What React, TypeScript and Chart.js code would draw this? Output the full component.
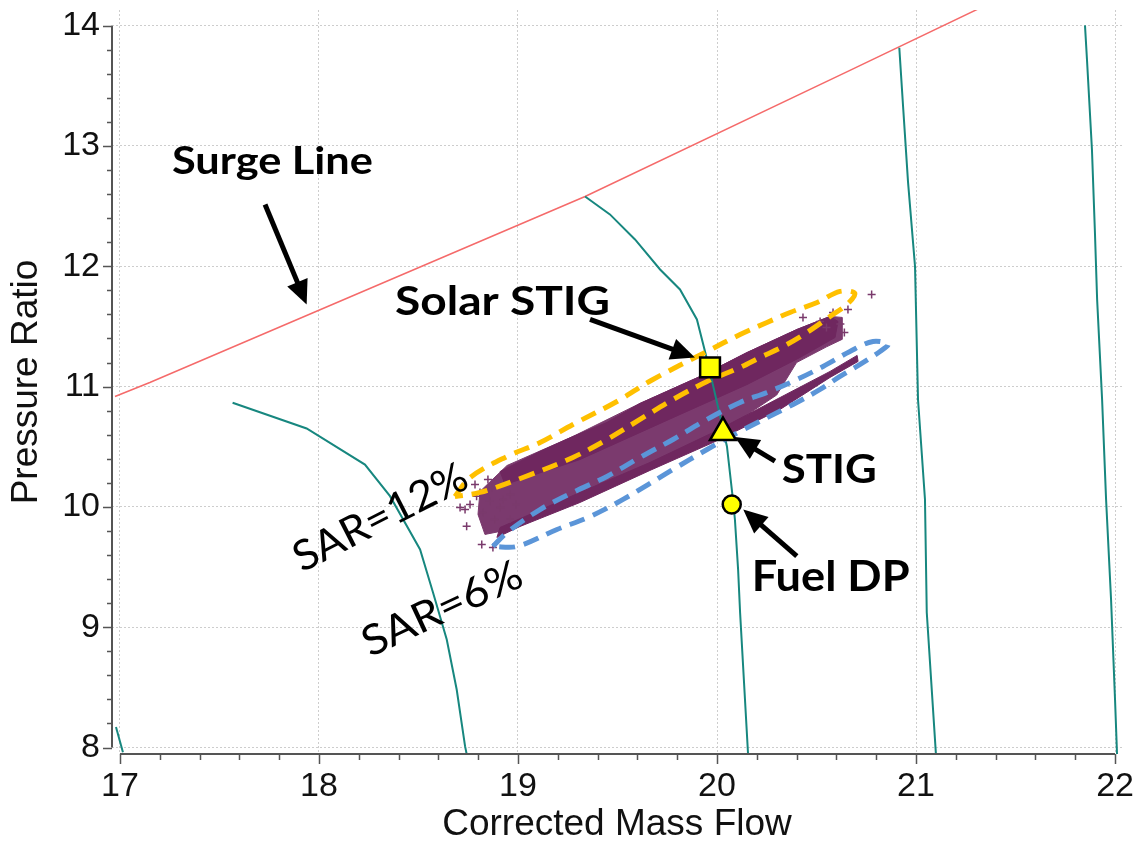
import React, { useEffect, useRef } from 'react';
import { Chart, registerables } from 'chart.js';

Chart.register(...registerables);

type P = { x: number; y: number };

// ---- axes ----
const xTickValues = [17, 18, 19, 20, 21, 22];
const yTickValues = [8, 9, 10, 11, 12, 13, 14];
const xRange = [16.96, 22.035];
const yRange = [7.946, 14.13];
const minorStep = 0.2;

// ---- surge line ----
const surgeLine: P[] = [
  { x: 16.975, y: 10.918 }, { x: 17.15, y: 11.034 }, { x: 19.337, y: 12.58 },
  { x: 20.668, y: 13.628 }, { x: 21.32, y: 14.145 },
];

// ---- speed lines ----
const speedLineA: P[] = [{ x: 16.98, y: 8.17 }, { x: 17.015, y: 7.96 }];
const speedLineB: P[] = [
  { x: 17.566, y: 10.865 }, { x: 17.938, y: 10.652 }, { x: 18.231, y: 10.352 },
  { x: 18.357, y: 10.089 }, { x: 18.508, y: 9.646 }, { x: 18.573, y: 9.288 },
  { x: 18.642, y: 8.898 }, { x: 18.692, y: 8.482 }, { x: 18.734, y: 8.011 }, { x: 18.742, y: 7.946 },
];
const speedLineC: P[] = [
  { x: 19.337, y: 12.58 }, { x: 19.462, y: 12.431 }, { x: 19.588, y: 12.223 },
  { x: 19.714, y: 11.973 }, { x: 19.814, y: 11.807 }, { x: 19.899, y: 11.558 },
  { x: 19.95, y: 11.225 }, { x: 20.0, y: 10.868 }, { x: 20.05, y: 10.502 },
  { x: 20.08, y: 10.062 }, { x: 20.09, y: 9.895 }, { x: 20.106, y: 9.48 },
  { x: 20.116, y: 9.122 }, { x: 20.156, y: 7.946 },
];
const speedLineD: P[] = [
  { x: 20.916, y: 13.816 }, { x: 20.936, y: 13.303 }, { x: 20.96, y: 12.697 },
  { x: 20.995, y: 11.998 }, { x: 21.01, y: 10.893 }, { x: 21.045, y: 10.062 },
  { x: 21.054, y: 9.122 }, { x: 21.1, y: 7.946 },
];
const speedLineE: P[] = [
  { x: 21.849, y: 14.002 }, { x: 21.859, y: 13.719 }, { x: 21.884, y: 12.971 },
  { x: 21.899, y: 12.281 }, { x: 21.91, y: 11.724 }, { x: 21.935, y: 10.893 },
  { x: 21.955, y: 10.062 }, { x: 21.98, y: 9.23 }, { x: 22.0, y: 8.399 }, { x: 22.01, y: 7.946 },
];

// ---- operating-point cloud (outlines of the dense scatter regions) ----
const cloudEnvelope: P[] = [
  { x: 18.809, y: 10.128 }, { x: 18.945, y: 10.344 }, { x: 19.276, y: 10.585 },
  { x: 19.613, y: 10.86 }, { x: 19.915, y: 11.084 }, { x: 20.151, y: 11.283 },
  { x: 20.402, y: 11.475 }, { x: 20.568, y: 11.583 }, { x: 20.628, y: 11.575 },
  { x: 20.628, y: 11.392 }, { x: 20.55, y: 11.33 }, { x: 20.4, y: 11.2 },
  { x: 20.3, y: 10.93 }, { x: 19.98, y: 10.577 }, { x: 19.663, y: 10.328 },
  { x: 19.312, y: 10.086 }, { x: 19.01, y: 9.879 }, { x: 18.91, y: 9.796 },
  { x: 18.834, y: 9.771 }, { x: 18.799, y: 9.937 }, { x: 18.809, y: 10.128 },
];
const cloudCore: P[] = [
  { x: 18.91, y: 10.294 }, { x: 19.111, y: 10.461 }, { x: 19.276, y: 10.585 },
  { x: 19.447, y: 10.702 }, { x: 19.613, y: 10.86 }, { x: 19.915, y: 11.084 },
  { x: 20.151, y: 11.283 }, { x: 20.402, y: 11.475 }, { x: 20.568, y: 11.583 },
  { x: 20.608, y: 11.541 }, { x: 20.593, y: 11.408 }, { x: 20.417, y: 11.242 },
  { x: 20.151, y: 11.017 }, { x: 19.814, y: 10.768 }, { x: 19.312, y: 10.394 },
  { x: 18.935, y: 10.186 }, { x: 18.91, y: 10.294 },
];
const cloudSliver: P[] = [
  { x: 18.91, y: 9.829 }, { x: 19.312, y: 10.12 }, { x: 19.663, y: 10.369 },
  { x: 19.98, y: 10.618 }, { x: 20.317, y: 10.909 }, { x: 20.568, y: 11.126 },
  { x: 20.704, y: 11.259 }, { x: 20.709, y: 11.209 }, { x: 20.568, y: 11.076 },
  { x: 20.317, y: 10.81 }, { x: 19.98, y: 10.535 }, { x: 19.663, y: 10.303 },
  { x: 19.312, y: 10.037 }, { x: 19.01, y: 9.837 }, { x: 18.894, y: 9.746 },
  { x: 18.91, y: 9.829 },
];
const cloudOutliers: P[] = [
  { x: 18.792, y: 10.089 }, { x: 18.859, y: 10.047 }, { x: 18.709, y: 9.995 },
  { x: 18.91, y: 9.995 }, { x: 18.742, y: 9.84 }, { x: 18.818, y: 9.687 },
  { x: 18.734, y: 9.978 }, { x: 18.824, y: 9.953 }, { x: 18.809, y: 10.12 },
  { x: 18.925, y: 10.062 }, { x: 18.874, y: 9.663 }, { x: 20.777, y: 11.766 },
  { x: 20.658, y: 11.641 }, { x: 20.518, y: 11.541 }, { x: 20.432, y: 11.574 },
  { x: 20.583, y: 11.616 }, { x: 20.62, y: 11.52 }, { x: 20.55, y: 11.49 },
  { x: 20.64, y: 11.45 }, { x: 18.96, y: 9.9 }, { x: 18.99, y: 10.02 },
  { x: 18.759, y: 10.02 }, { x: 18.884, y: 9.895 }, { x: 18.96, y: 10.103 },
  { x: 18.849, y: 10.228 }, { x: 18.784, y: 10.186 }, { x: 18.87, y: 10.16 },
];

// ---- SAR ellipses ----
const ellipseSar12: P[] = [
  { x: 18.683, y: 10.086 }, { x: 18.759, y: 10.244 }, { x: 18.945, y: 10.419 },
  { x: 19.111, y: 10.535 }, { x: 19.276, y: 10.685 }, { x: 19.497, y: 10.876 },
  { x: 19.678, y: 11.059 }, { x: 19.95, y: 11.292 }, { x: 20.116, y: 11.433 },
  { x: 20.251, y: 11.533 }, { x: 20.367, y: 11.616 }, { x: 20.503, y: 11.699 },
  { x: 20.618, y: 11.791 }, { x: 20.693, y: 11.774 }, { x: 20.653, y: 11.683 },
  { x: 20.568, y: 11.583 }, { x: 20.452, y: 11.45 }, { x: 20.332, y: 11.333 },
  { x: 20.216, y: 11.242 }, { x: 20.116, y: 11.159 }, { x: 19.95, y: 11.042 },
  { x: 19.779, y: 10.893 }, { x: 19.613, y: 10.727 }, { x: 19.447, y: 10.56 },
  { x: 19.276, y: 10.411 }, { x: 19.025, y: 10.244 }, { x: 18.809, y: 10.12 },
  { x: 18.683, y: 10.086 },
];
const ellipseSar6: P[] = [
  { x: 18.874, y: 9.671 }, { x: 18.945, y: 9.787 }, { x: 19.111, y: 9.978 },
  { x: 19.276, y: 10.12 }, { x: 19.447, y: 10.253 }, { x: 19.613, y: 10.411 },
  { x: 19.779, y: 10.56 }, { x: 19.95, y: 10.727 }, { x: 20.116, y: 10.868 },
  { x: 20.251, y: 10.951 }, { x: 20.402, y: 11.059 }, { x: 20.533, y: 11.167 },
  { x: 20.668, y: 11.292 }, { x: 20.784, y: 11.375 }, { x: 20.859, y: 11.35 },
  { x: 20.819, y: 11.292 }, { x: 20.719, y: 11.184 }, { x: 20.618, y: 11.084 },
  { x: 20.518, y: 10.976 }, { x: 20.382, y: 10.851 }, { x: 20.116, y: 10.627 },
  { x: 19.95, y: 10.477 }, { x: 19.779, y: 10.311 }, { x: 19.528, y: 10.062 },
  { x: 19.362, y: 9.92 }, { x: 19.196, y: 9.812 }, { x: 18.995, y: 9.671 },
  { x: 18.874, y: 9.671 },
];

// ---- design points ----
const solarStigPoint: P[] = [{ x: 19.965, y: 11.159 }];
const stigPoint: P[] = [{ x: 20.03, y: 10.618 }];
const fuelDpPoint: P[] = [{ x: 20.074, y: 10.02 }];

// ---- annotations (data units) ----
const arrowFrom: P[] = [
  { x: 17.729, y: 12.514 }, { x: 19.362, y: 11.558 }, { x: 20.291, y: 10.38 }, { x: 20.401, y: 9.59 },
];
const arrowTo: P[] = [
  { x: 17.938, y: 11.683 }, { x: 19.889, y: 11.242 }, { x: 20.09, y: 10.58 }, { x: 20.132, y: 9.978 },
];
const labelTexts = ['Surge Line', 'Solar STIG', 'STIG', 'Fuel DP', 'SAR=12%', 'SAR=6%'];
const labelAnchors: P[] = [
  { x: 17.261, y: 12.763 }, { x: 18.382, y: 11.599 }, { x: 20.325, y: 10.2 },
  { x: 20.174, y: 9.299 }, { x: 18.34, y: 9.81 }, { x: 18.648, y: 9.05 },
];

const labelStyle = [
  { weight: 'bold', size: 38, width: 201, angle: 0, align: 'left' },
  { weight: 'bold', size: 40, width: 215, angle: 0, align: 'left' },
  { weight: 'bold', size: 40, width: 95, angle: 0, align: 'left' },
  { weight: 'bold', size: 42, width: 158, angle: 0, align: 'left' },
  { weight: 'normal', size: 42, width: 190, angle: -27, align: 'center' },
  { weight: 'normal', size: 42, width: 172, angle: -25, align: 'center' },
];

const PURPLE = '#6f275f';
const PURPLE_SPECKLE = '#7b3a6e';
const TEAL = '#17877f';
const FONT = '"Liberation Sans", Arial, sans-serif';

const overlayPlugin = {
  id: 'overlay',
  afterDatasetsDraw(chart: any) {
    const ctx: CanvasRenderingContext2D = chart.ctx;
    const xs = chart.scales.x;
    const ys = chart.scales.y;
    // axes with major and minor ticks
    ctx.save();
    ctx.strokeStyle = '#555';
    ctx.lineWidth = 2;
    const axX = chart.chartArea.left;
    const axY = chart.chartArea.bottom;
    ctx.beginPath();
    ctx.moveTo(axX, ys.getPixelForValue(yTickValues[yTickValues.length - 1]));
    ctx.lineTo(axX, ys.getPixelForValue(yTickValues[0]));
    ctx.moveTo(xs.getPixelForValue(xTickValues[0]), axY);
    ctx.lineTo(xs.getPixelForValue(xTickValues[xTickValues.length - 1]), axY);
    ctx.stroke();
    ctx.lineWidth = 1.5;
    ctx.beginPath();
    const yN = Math.round((yTickValues[yTickValues.length - 1] - yTickValues[0]) / minorStep);
    for (let i = 0; i <= yN; i++) {
      const v = yTickValues[0] + i * minorStep;
      const py = Math.round(ys.getPixelForValue(v)) + 0.5;
      const len = i % 5 === 0 ? 9 : 5;
      ctx.moveTo(axX - len, py);
      ctx.lineTo(axX, py);
    }
    const xN = Math.round((xTickValues[xTickValues.length - 1] - xTickValues[0]) / minorStep);
    for (let i = 0; i <= xN; i++) {
      const v = xTickValues[0] + i * minorStep;
      const px = Math.round(xs.getPixelForValue(v)) + 0.5;
      const len = i % 5 === 0 ? 10 : 6;
      ctx.moveTo(px, axY);
      ctx.lineTo(px, axY + len);
    }
    ctx.stroke();
    ctx.restore();

    // arrows
    ctx.save();
    for (let i = 0; i < arrowFrom.length; i++) {
      const x1 = xs.getPixelForValue(arrowFrom[i].x);
      const y1 = ys.getPixelForValue(arrowFrom[i].y);
      const x2 = xs.getPixelForValue(arrowTo[i].x);
      const y2 = ys.getPixelForValue(arrowTo[i].y);
      const ang = Math.atan2(y2 - y1, x2 - x1);
      const headLen = 24;
      const headHalf = 11;
      const bx = x2 - headLen * Math.cos(ang);
      const by = y2 - headLen * Math.sin(ang);
      ctx.strokeStyle = '#000';
      ctx.lineWidth = 5;
      ctx.beginPath();
      ctx.moveTo(x1, y1);
      ctx.lineTo(bx + 2 * Math.cos(ang), by + 2 * Math.sin(ang));
      ctx.stroke();
      ctx.fillStyle = '#000';
      ctx.beginPath();
      ctx.moveTo(x2, y2);
      ctx.lineTo(bx + headHalf * Math.sin(ang), by - headHalf * Math.cos(ang));
      ctx.lineTo(bx - headHalf * Math.sin(ang), by + headHalf * Math.cos(ang));
      ctx.closePath();
      ctx.fill();
    }
    ctx.restore();

    // labels
    for (let i = 0; i < labelTexts.length; i++) {
      const st = labelStyle[i];
      ctx.save();
      ctx.font = `${st.weight} ${st.size}px Lato, "Open Sans", sans-serif`;
      const w = ctx.measureText(labelTexts[i]).width;
      const sx = st.width / w;
      ctx.translate(xs.getPixelForValue(labelAnchors[i].x), ys.getPixelForValue(labelAnchors[i].y));
      ctx.rotate((st.angle * Math.PI) / 180);
      ctx.scale(sx, 1);
      ctx.fillStyle = '#000';
      ctx.textAlign = st.align as CanvasTextAlign;
      ctx.textBaseline = 'alphabetic';
      ctx.fillText(labelTexts[i], 0, 0);
      ctx.restore();
    }
  },
};

const lineDs = (label: string, data: P[], color: string, width: number, order: number) => ({
  label, data, showLine: true, borderColor: color, borderWidth: width, pointRadius: 0,
  tension: 0, fill: false, order,
});

const zeroPad = (s: any) => {
  s.paddingTop = 0;
  s.paddingBottom = 0;
  s.paddingLeft = 0;
  s.paddingRight = 0;
};

export default function App() {
  const ref = useRef<HTMLCanvasElement | null>(null);
  useEffect(() => {
    document.body.style.margin = '0';
    if (!ref.current) return;
    const chart = new Chart(ref.current, {
      type: 'scatter',
      data: {
        datasets: [
          {
            label: 'Solar STIG', data: solarStigPoint, pointStyle: 'rect', pointRadius: 14,
            backgroundColor: '#ffff00', borderColor: '#000', borderWidth: 2.5, order: 0,
          },
          {
            label: 'STIG', data: stigPoint, pointStyle: 'triangle', pointRadius: 15,
            backgroundColor: '#ffff00', borderColor: '#000', borderWidth: 2.5, order: 0,
          },
          {
            label: 'Fuel DP', data: fuelDpPoint, pointStyle: 'circle', pointRadius: 9,
            backgroundColor: '#ffff00', borderColor: '#000', borderWidth: 2.5, order: 0,
          },
          {
            label: 'SAR=12%', data: ellipseSar12, showLine: true, borderColor: '#ffc000', borderWidth: 5,
            borderDash: [16, 9], pointRadius: 0, tension: 0.35, fill: false, order: 1,
          },
          {
            label: 'SAR=6%', data: ellipseSar6, showLine: true, borderColor: '#5b95d8', borderWidth: 5,
            borderDash: [16, 9], pointRadius: 0, tension: 0.35, fill: false, order: 1,
          },
          lineDs('N1', speedLineA, TEAL, 2, 2),
          lineDs('N2', speedLineB, TEAL, 2, 2),
          lineDs('N3', speedLineC, TEAL, 2, 2),
          lineDs('N4', speedLineD, TEAL, 2, 2),
          lineDs('N5', speedLineE, TEAL, 2, 2),
          {
            label: 'outliers', data: cloudOutliers, pointStyle: 'cross', pointRadius: 4,
            borderColor: '#7a3a6c', borderWidth: 1.5, order: 3,
          },
          {
            label: 'sliver', data: cloudSliver, showLine: true, borderColor: PURPLE, borderWidth: 1,
            backgroundColor: PURPLE, fill: 'shape', pointRadius: 0, tension: 0, order: 4,
          },
          {
            label: 'core', data: cloudCore, showLine: true, borderColor: PURPLE, borderWidth: 1,
            backgroundColor: PURPLE, fill: 'shape', pointRadius: 0, tension: 0, order: 5,
          },
          {
            label: 'envelope', data: cloudEnvelope, showLine: true, borderColor: PURPLE_SPECKLE, borderWidth: 1,
            backgroundColor: PURPLE_SPECKLE, fill: 'shape', pointRadius: 0, tension: 0, order: 6,
          },
          lineDs('Surge Line', surgeLine, '#f56a6a', 1.5, 7),
        ] as any,
      },
      options: {
        animation: false,
        responsive: false,
        maintainAspectRatio: false,
        layout: { autoPadding: false, padding: { top: 10, right: 12, bottom: 0, left: 0 } },
        plugins: { legend: { display: false }, tooltip: { enabled: false } },
        scales: {
          x: {
            type: 'linear', min: xRange[0], max: xRange[1],
            afterBuildTicks: (s: any) => { s.ticks = xTickValues.map((v) => ({ value: v })); },
            afterFit: (s: any) => { s.height = 89; zeroPad(s); },
            grid: { color: '#cdcdcd', lineWidth: 1, drawTicks: false },
            border: { display: false, dash: [2, 2] },
            ticks: {
              color: '#111', padding: 12, maxRotation: 0, autoSkip: false,
              font: { family: FONT, size: 34 },
            },
            title: {
              display: true, text: 'Corrected Mass Flow', color: '#111',
              font: { family: FONT, size: 37, lineHeight: 1 },
              padding: { top: 0, bottom: 0 },
            },
          },
          y: {
            type: 'linear', min: yRange[0], max: yRange[1],
            afterBuildTicks: (s: any) => { s.ticks = yTickValues.map((v) => ({ value: v })); },
            afterFit: (s: any) => { s.width = 112; zeroPad(s); },
            grid: { color: '#cdcdcd', lineWidth: 1, drawTicks: false },
            border: { display: false, dash: [2, 2] },
            ticks: {
              color: '#111', padding: 12, autoSkip: false,
              font: { family: FONT, size: 34 },
            },
            title: {
              display: true, text: 'Pressure Ratio', color: '#111',
              font: { family: FONT, size: 37, lineHeight: 1 },
              padding: { top: 8, bottom: 0 },
            },
          },
        },
      } as any,
      plugins: [overlayPlugin],
    });
    return () => chart.destroy();
  }, []);
  return <canvas ref={ref} width={1134} height={843} style={{ display: 'block' }} />;
}
